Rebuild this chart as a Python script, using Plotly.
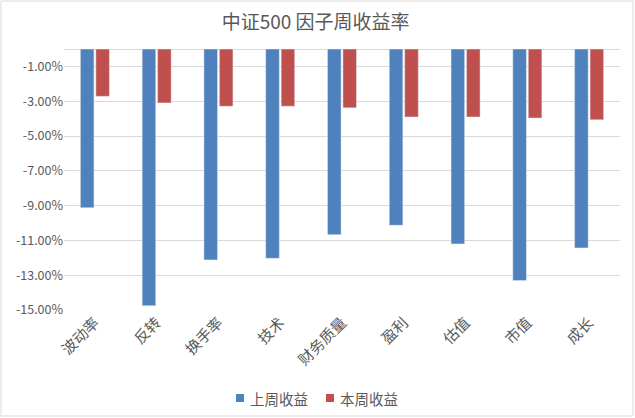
import plotly.graph_objects as go

categories = ["波动率", "反转", "换手率", "技术", "财务质量", "盈利", "估值", "市值", "成长"]
series_names = ["上周收益", "本周收益"]
last_week = [-9.12, -14.75, -12.12, -12.03, -10.67, -10.13, -11.20, -13.31, -11.43]
this_week = [-2.72, -3.10, -3.29, -3.29, -3.38, -3.91, -3.91, -3.97, -4.07]
tick_vals = [-1, -3, -5, -7, -9, -11, -13, -15]
tick_text = ["-1.00%", "-3.00%", "-5.00%", "-7.00%", "-9.00%", "-11.00%", "-13.00%", "-15.00%"]

W, H = 635, 418
ML, MR, MT, MB = 64, 15, 49, 108
FONT = "Noto Sans CJK SC, Liberation Sans, sans-serif"
GREY = "#595959"
COLORS = ["#4f81bd", "#c0504d"]

fig = go.Figure()
fig.add_trace(go.Bar(name=series_names[0], x=categories, y=last_week, marker_color=COLORS[0]))
fig.add_trace(go.Bar(name=series_names[1], x=categories, y=this_week, marker_color=COLORS[1]))

pw = W - ML - MR
ph = H - MT - MB


def px_x(px):
    return (px - ML) / pw


def px_y(py):
    return (H - MB - py) / ph


fig.add_shape(type="rect", xref="paper", yref="paper",
              x0=px_x(1), x1=px_x(W - 2), y0=px_y(H - 2), y1=px_y(1),
              line=dict(color="#d9d9d9", width=1), layer="below")

# legend drawn manually (compact Excel-style)
legend_sq_x = [236, 326]
legend_y = 398
for name, color, sx in zip(series_names, COLORS, legend_sq_x):
    fig.add_shape(type="rect", xref="paper", yref="paper",
                  x0=px_x(sx), x1=px_x(sx + 8), y0=px_y(legend_y + 4), y1=px_y(legend_y - 4),
                  line=dict(width=0), fillcolor=color)
    fig.add_annotation(text=name, xref="paper", yref="paper",
                       x=px_x(sx + 12), y=px_y(legend_y), xanchor="left", yanchor="middle",
                       showarrow=False, font=dict(size=14.5, color=GREY, family=FONT))

fig.update_layout(
    width=W, height=H,
    margin=dict(l=ML, r=MR, t=MT, b=MB),
    paper_bgcolor="white", plot_bgcolor="white",
    barmode="group", bargap=0.5, bargroupgap=0.12,
    font=dict(family=FONT, color=GREY, size=12),
    title=dict(text="中证500 因子周收益率", xref="container", yref="container",
               x=0.497, y=1 - 22 / H, xanchor="center", yanchor="middle",
               font=dict(size=19, color=GREY, family=FONT)),
    showlegend=False,
)
fig.update_xaxes(tickangle=-45, tickfont=dict(size=15, color=GREY), showgrid=False,
                 showline=False, ticks="")
fig.update_yaxes(range=[-15, 0], tickvals=tick_vals, ticktext=tick_text,
                 showgrid=True, gridcolor="#d9d9d9", gridwidth=1,
                 zeroline=True, zerolinecolor="#d9d9d9", zerolinewidth=1,
                 showline=False, ticks="", tickfont=dict(size=12.5, color=GREY))

fig.write_html("out.html", config={"displayModeBar": False},
               post_script="document.body.style.margin='0';document.body.style.overflow='hidden';")
